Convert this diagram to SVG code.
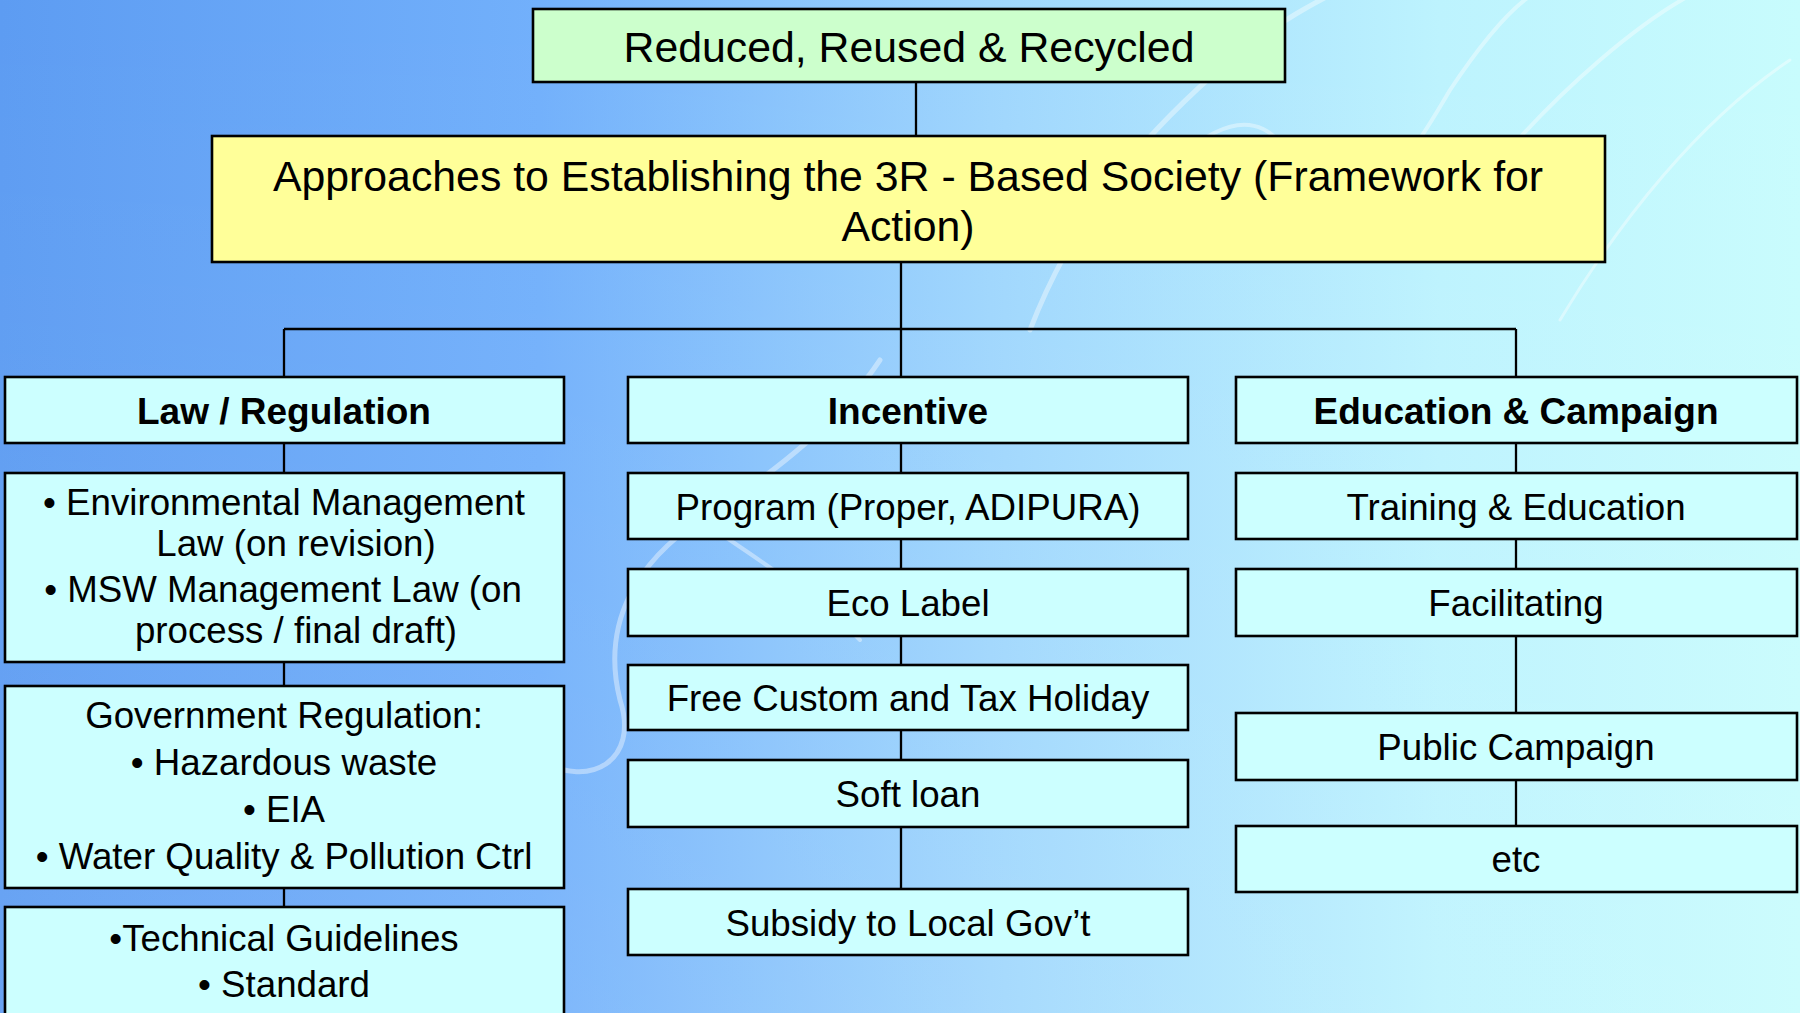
<svg xmlns="http://www.w3.org/2000/svg" width="1800" height="1013" viewBox="0 0 1800 1013">
  <defs>
    <linearGradient id="bg" x1="0" y1="0" x2="1" y2="0">
      <stop offset="0" stop-color="#5d9cf2"/>
      <stop offset="0.3" stop-color="#72b0fb"/>
      <stop offset="0.55" stop-color="#9fd6fd"/>
      <stop offset="0.8" stop-color="#bdf3fe"/>
      <stop offset="1" stop-color="#c8fcfd"/>
    </linearGradient>
    <linearGradient id="bgv" x1="0" y1="0" x2="0" y2="1">
      <stop offset="0" stop-color="#ffffff" stop-opacity="0"/>
      <stop offset="1" stop-color="#ffffff" stop-opacity="0.08"/>
    </linearGradient>
  </defs>
  <style>
    .box { stroke: #000; stroke-width: 2.6; }
    .green { fill: #ccffcc; }
    .yellow { fill: #ffff99; }
    .cyan { fill: #ccffff; }
    .t { font-family: "Liberation Sans", Arial, sans-serif; fill: #000; text-anchor: middle; }
    .title { font-size: 42.8px; }
    .head { font-size: 37px; font-weight: bold; }
    .item { font-size: 36.7px; }
    .conn line { stroke: #000; stroke-width: 2.3; }
    .swirl { fill: none; stroke: #ffffff; stroke-linecap: round; }
  </style>

  <rect x="0" y="0" width="1800" height="1013" fill="url(#bg)"/>
  <rect x="0" y="0" width="1800" height="1013" fill="url(#bgv)"/>
  <g opacity="0.4">
    <path class="swirl" stroke-width="5" d="M1030 330 C1080 200 1160 120 1230 60 C1280 20 1320 0 1340 -10"/>
    <path class="swirl" stroke-width="4" d="M1100 250 C1180 140 1260 70 1300 180 C1330 260 1380 210 1450 90 C1490 30 1520 0 1540 -10"/>
    <path class="swirl" stroke-width="4" d="M1500 160 C1560 90 1640 20 1700 -10"/>
    <path class="swirl" stroke-width="3" d="M1560 320 C1620 220 1700 120 1790 60"/>
    <path class="swirl" stroke-width="5" d="M880 360 C840 420 780 470 700 520 C640 560 600 620 620 700 C640 760 590 790 540 760"/>
    <path class="swirl" stroke-width="4" d="M700 520 C760 560 820 600 860 640"/>
  </g>

  <g id="connectors" class="conn">
    <line x1="916" y1="82" x2="916" y2="137"/>
    <line x1="901" y1="262" x2="901" y2="377"/>
    <line x1="284" y1="329" x2="1516" y2="329"/>
    <line x1="284" y1="329" x2="284" y2="377"/>
    <line x1="1516" y1="329" x2="1516" y2="377"/>
    <line x1="284" y1="443" x2="284" y2="473"/>
    <line x1="284" y1="662" x2="284" y2="686"/>
    <line x1="284" y1="888" x2="284" y2="907"/>
    <line x1="901" y1="443" x2="901" y2="473"/>
    <line x1="901" y1="539" x2="901" y2="569"/>
    <line x1="901" y1="636" x2="901" y2="665"/>
    <line x1="901" y1="730" x2="901" y2="760"/>
    <line x1="901" y1="827" x2="901" y2="889"/>
    <line x1="1516" y1="443" x2="1516" y2="473"/>
    <line x1="1516" y1="539" x2="1516" y2="569"/>
    <line x1="1516" y1="636" x2="1516" y2="713"/>
    <line x1="1516" y1="780" x2="1516" y2="826"/>
  </g>

  <g id="node-rrr">
    <rect class="box green" x="533" y="9" width="752" height="73"/>
    <text class="t title" x="909" y="62">Reduced, Reused &amp; Recycled</text>
  </g>

  <g id="node-approaches">
    <rect class="box yellow" x="212" y="136" width="1393" height="126"/>
    <text class="t title" x="908" y="191">Approaches to Establishing the 3R - Based Society (Framework for</text>
    <text class="t title" x="908" y="241">Action)</text>
  </g>

  <g id="node-law">
    <rect class="box cyan" x="5" y="377" width="559" height="66"/>
    <text class="t head" x="284" y="424">Law / Regulation</text>
  </g>
  <g id="node-env-law">
    <rect class="box cyan" x="5" y="473" width="559" height="189"/>
    <text class="t item" x="284" y="515">• Environmental Management</text>
    <text class="t item" x="296" y="556">Law (on revision)</text>
    <text class="t item" x="283" y="602">• MSW Management Law (on</text>
    <text class="t item" x="296" y="643">process / final draft)</text>
  </g>
  <g id="node-gov-reg">
    <rect class="box cyan" x="5" y="686" width="559" height="202"/>
    <text class="t item" x="284" y="728">Government Regulation:</text>
    <text class="t item" x="284" y="775">• Hazardous waste</text>
    <text class="t item" x="284" y="822">• EIA</text>
    <text class="t item" x="284" y="869">• Water Quality &amp; Pollution Ctrl</text>
  </g>
  <g id="node-tech">
    <rect class="box cyan" x="5" y="907" width="559" height="130"/>
    <text class="t item" x="284" y="951">•Technical Guidelines</text>
    <text class="t item" x="284" y="997">• Standard</text>
  </g>

  <g id="node-incentive">
    <rect class="box cyan" x="628" y="377" width="560" height="66"/>
    <text class="t head" x="908" y="424">Incentive</text>
  </g>
  <g id="node-program">
    <rect class="box cyan" x="628" y="473" width="560" height="66"/>
    <text class="t item" x="908" y="520">Program (Proper, ADIPURA)</text>
  </g>
  <g id="node-eco">
    <rect class="box cyan" x="628" y="569" width="560" height="67"/>
    <text class="t item" x="908" y="616">Eco Label</text>
  </g>
  <g id="node-custom">
    <rect class="box cyan" x="628" y="665" width="560" height="65"/>
    <text class="t item" x="908" y="711">Free Custom and Tax Holiday</text>
  </g>
  <g id="node-loan">
    <rect class="box cyan" x="628" y="760" width="560" height="67"/>
    <text class="t item" x="908" y="807">Soft loan</text>
  </g>
  <g id="node-subsidy">
    <rect class="box cyan" x="628" y="889" width="560" height="66"/>
    <text class="t item" x="908" y="936">Subsidy to Local Gov’t</text>
  </g>

  <g id="node-education">
    <rect class="box cyan" x="1236" y="377" width="561" height="66"/>
    <text class="t head" x="1516" y="424">Education &amp; Campaign</text>
  </g>
  <g id="node-training">
    <rect class="box cyan" x="1236" y="473" width="561" height="66"/>
    <text class="t item" x="1516" y="520">Training &amp; Education</text>
  </g>
  <g id="node-facilitating">
    <rect class="box cyan" x="1236" y="569" width="561" height="67"/>
    <text class="t item" x="1516" y="616">Facilitating</text>
  </g>
  <g id="node-public">
    <rect class="box cyan" x="1236" y="713" width="561" height="67"/>
    <text class="t item" x="1516" y="760">Public Campaign</text>
  </g>
  <g id="node-etc">
    <rect class="box cyan" x="1236" y="826" width="561" height="66"/>
    <text class="t item" x="1516" y="872">etc</text>
  </g>
</svg>
